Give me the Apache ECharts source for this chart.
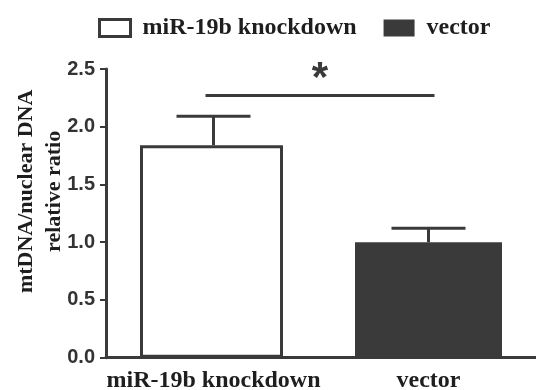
<!DOCTYPE html>
<html><head><meta charset="utf-8">
<script src="https://cdn.jsdelivr.net/npm/echarts@6/dist/echarts.min.js"></script>
<style>html,body{margin:0;padding:0;background:#fff}#c{width:536px;height:390px}</style>
</head><body><div id="c"></div>
<script>
const categories = ['miR-19b knockdown', 'vector'];
const seriesNames = ['miR-19b knockdown', 'vector'];
const means = [1.84, 1.00];
const errTops = [2.09, 1.12];
const yTicks = [0, 0.5, 1.0, 1.5, 2.0, 2.5];
const sigLevel = 2.27;
const starLevel = 2.49;
const sigLabel = '*';

const dark = '#3a3a3a';
const serif = '"Liberation Serif","Times New Roman",serif';
const sans = '"Liberation Sans",Arial,sans-serif';

const chart = echarts.init(document.getElementById('c'), null, {renderer: 'canvas'});
chart.setOption({
  animation: false,
  backgroundColor: '#fff',
  grid: {left: 106, right: 0, top: 69, bottom: 32.3, containLabel: false, outerBoundsMode: 'none'},
  legend: {
    left: 93, top: 11, itemWidth: 31, itemHeight: 17, itemGap: 27,
    textStyle: {fontFamily: serif, fontWeight: 'bold', fontSize: 24, color: '#1e1e1e', padding: [0, 0, 0, 7]},
    data: [
      {name: seriesNames[0], icon: 'rect', itemStyle: {color: '#fff', borderColor: dark, borderWidth: 3}},
      {name: seriesNames[1], icon: 'rect', itemStyle: {color: dark, borderColor: dark, borderWidth: 0}}
    ]
  },
  xAxis: {
    type: 'category', data: categories,
    axisLine: {lineStyle: {color: dark, width: 3}},
    axisTick: {alignWithLabel: true, length: 6, lineStyle: {color: dark, width: 2}},
    axisLabel: {interval: 0, fontFamily: serif, fontWeight: 'bold', fontSize: 24, color: '#1e1e1e', margin: 11}
  },
  yAxis: {
    type: 'value', min: 0, max: 2.5, interval: 0.5,
    name: 'mtDNA/nuclear DNA\nrelative ratio', nameLocation: 'middle', nameGap: 38, nameRotate: 90,
    nameMoveOverlap: false,
    nameTextStyle: {fontFamily: serif, fontWeight: 'bold', fontSize: 22, lineHeight: 28, color: '#1e1e1e', padding: [0, 0, 0, 44]},
    splitLine: {show: false},
    axisLine: {show: true, lineStyle: {color: dark, width: 3}},
    axisTick: {show: true, length: 6, lineStyle: {color: dark, width: 2}},
    axisLabel: {fontFamily: sans, fontWeight: 'bold', fontSize: 20, color: '#333', margin: 11,
      formatter: v => yTicks.includes(v) ? v.toFixed(1) : ''}
  },
  series: [
    {name: seriesNames[0], type: 'bar', barWidth: 143, barGap: '-100%',
      itemStyle: {color: '#fff', borderColor: dark, borderWidth: 3},
      data: [means[0], '-']},
    {name: seriesNames[1], type: 'bar', barWidth: 147, barGap: '-100%',
      itemStyle: {color: dark, borderColor: dark, borderWidth: 0},
      data: ['-', means[1]]},
    {type: 'custom', name: 'err', silent: true, z: 1,
      data: categories.map((c, i) => [i, means[i], errTops[i]]),
      renderItem: (params, api) => {
        const base = api.coord([api.value(0), api.value(1)]);
        const top = api.coord([api.value(0), api.value(2)]);
        const half = 37;
        const st = {stroke: dark, lineWidth: 3};
        return {type: 'group', children: [
          {type: 'line', shape: {x1: base[0], y1: base[1], x2: top[0], y2: top[1]}, style: st},
          {type: 'line', shape: {x1: top[0] - half, y1: top[1], x2: top[0] + half, y2: top[1]}, style: st}
        ]};
      }},
    {type: 'custom', name: 'sig', silent: true,
      data: [[0, 1, sigLevel, starLevel]],
      renderItem: (params, api) => {
        const a = api.coord([api.value(0), api.value(2)]);
        const b = api.coord([api.value(1), api.value(2)]);
        const s = api.coord([api.value(0), api.value(3)]);
        const mx = (a[0] - 8 + b[0] + 6) / 2;
        return {type: 'group', children: [
          {type: 'line', shape: {x1: a[0] - 8, y1: a[1], x2: b[0] + 6, y2: b[1]}, style: {stroke: dark, lineWidth: 3}},
          {type: 'text', x: mx, y: s[1] + 9, style: {text: sigLabel, fontFamily: sans, fontWeight: 'bold', fontSize: 42, fill: dark, align: 'center', verticalAlign: 'middle'}}
        ]};
      }}
  ]
});
</script></body></html>
